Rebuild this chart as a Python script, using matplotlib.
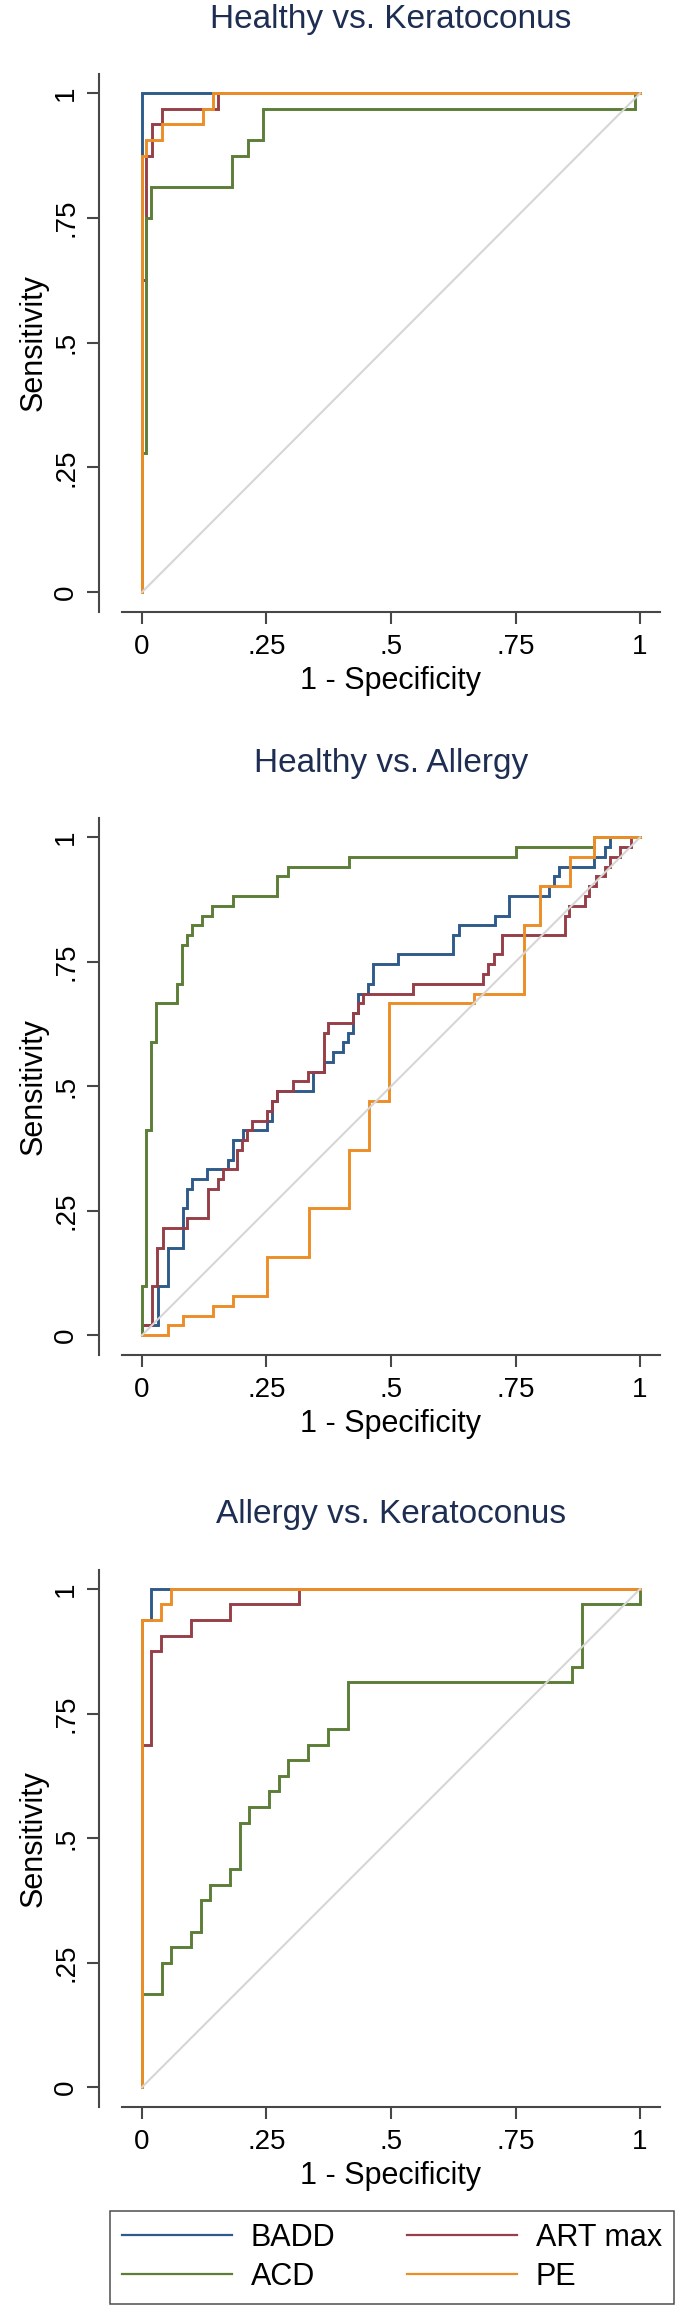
import matplotlib.pyplot as plt
from matplotlib.lines import Line2D

plt.rcParams['font.family'] = ['Liberation Sans', 'DejaVu Sans']

PANEL_TITLES = ['Healthy vs. Keratoconus', 'Healthy vs. Allergy', 'Allergy vs. Keratoconus']
SERIES = ['BADD', 'ART max', 'ACD', 'PE']
SERIES_COLORS = {
    'BADD': '#2f5b8b',
    'ART max': '#963f48',
    'ACD': '#5c7e37',
    'PE': '#ec8e28',
}
TICKS = [0, 0.25, 0.5, 0.75, 1]
TICK_LABELS = ['0', '.25', '.5', '.75', '1']

# Healthy vs. Keratoconus: vertices of each ROC curve (1 - specificity, sensitivity)
HK_BADD_FPR = [0, 0, 1]
HK_BADD_SENS = [0, 1, 1]
HK_ART_FPR = [0, 0, 0.008, 0.008, 0.02, 0.02, 0.04, 0.04, 0.152, 0.152, 1]
HK_ART_SENS = [0, 0.625, 0.625, 0.875, 0.875, 0.9375, 0.9375, 0.969, 0.969, 1, 1]
HK_ACD_FPR = [0, 0, 0.008, 0.008, 0.019, 0.019, 0.181, 0.181, 0.212, 0.212, 0.244, 0.244,
              0.99, 0.99, 1]
HK_ACD_SENS = [0, 0.28, 0.28, 0.75, 0.75, 0.8125, 0.8125, 0.875, 0.875, 0.906, 0.906, 0.969,
               0.969, 1, 1]
HK_PE_FPR = [0, 0, 0.009, 0.009, 0.04, 0.04, 0.122, 0.122, 0.142, 0.142, 1]
HK_PE_SENS = [0, 0.875, 0.875, 0.906, 0.906, 0.9375, 0.9375, 0.969, 0.969, 1, 1]

# Healthy vs. Allergy
HA_BADD_FPR = [0, 0, 0.032, 0.032, 0.052, 0.052, 0.082, 0.082, 0.091, 0.091, 0.1, 0.1,
               0.131, 0.131, 0.173, 0.173, 0.183, 0.183, 0.203, 0.203, 0.252, 0.252,
               0.262, 0.262, 0.272, 0.272, 0.344, 0.344, 0.365, 0.365, 0.384, 0.384,
               0.403, 0.403, 0.414, 0.414, 0.424, 0.424, 0.434, 0.434, 0.454, 0.454,
               0.464, 0.464, 0.515, 0.515, 0.625, 0.625, 0.637, 0.637, 0.708, 0.708,
               0.736, 0.736, 0.818, 0.818, 0.828, 0.828, 0.838, 0.838, 0.907, 0.907,
               0.929, 0.929, 0.94, 0.94, 1]
HA_BADD_SENS = [0, 0.02, 0.02, 0.098, 0.098, 0.176, 0.176, 0.255, 0.255, 0.294, 0.294, 0.314,
                0.314, 0.333, 0.333, 0.353, 0.353, 0.392, 0.392, 0.412, 0.412, 0.431,
                0.431, 0.471, 0.471, 0.49, 0.49, 0.529, 0.529, 0.549, 0.549, 0.569,
                0.569, 0.588, 0.588, 0.608, 0.608, 0.647, 0.647, 0.686, 0.686, 0.706,
                0.706, 0.745, 0.745, 0.765, 0.765, 0.804, 0.804, 0.824, 0.824, 0.843,
                0.843, 0.882, 0.882, 0.902, 0.902, 0.922, 0.922, 0.941, 0.941, 0.961,
                0.961, 0.98, 0.98, 1, 1]
HA_ART_FPR = [0, 0, 0.02, 0.02, 0.03, 0.03, 0.042, 0.042, 0.091, 0.091, 0.132, 0.132,
              0.152, 0.152, 0.162, 0.162, 0.191, 0.191, 0.2, 0.2, 0.21, 0.21, 0.221, 0.221,
              0.252, 0.252, 0.262, 0.262, 0.272, 0.272, 0.303, 0.303, 0.334, 0.334,
              0.365, 0.365, 0.374, 0.374, 0.424, 0.424, 0.434, 0.434, 0.444, 0.444,
              0.545, 0.545, 0.684, 0.684, 0.695, 0.695, 0.706, 0.706, 0.723, 0.723,
              0.849, 0.849, 0.857, 0.857, 0.89, 0.89, 0.898, 0.898, 0.912, 0.912,
              0.929, 0.929, 0.94, 0.94, 0.96, 0.96, 0.982, 0.982, 1]
HA_ART_SENS = [0, 0.02, 0.02, 0.098, 0.098, 0.176, 0.176, 0.216, 0.216, 0.235, 0.235, 0.294,
               0.294, 0.314, 0.314, 0.333, 0.333, 0.373, 0.373, 0.392, 0.392, 0.412, 0.412,
               0.431, 0.431, 0.451, 0.451, 0.471, 0.471, 0.49, 0.49, 0.51, 0.51, 0.529,
               0.529, 0.608, 0.608, 0.627, 0.627, 0.647, 0.647, 0.667, 0.667, 0.686,
               0.686, 0.706, 0.706, 0.725, 0.725, 0.745, 0.745, 0.765, 0.765, 0.804,
               0.804, 0.843, 0.843, 0.863, 0.863, 0.882, 0.882, 0.902, 0.902, 0.922,
               0.922, 0.941, 0.941, 0.961, 0.961, 0.98, 0.98, 1, 1]
HA_ACD_FPR = [0, 0, 0.009, 0.009, 0.019, 0.019, 0.029, 0.029, 0.071, 0.071, 0.081, 0.081,
              0.091, 0.091, 0.1, 0.1, 0.121, 0.121, 0.141, 0.141, 0.182, 0.182, 0.272,
              0.272, 0.293, 0.293, 0.416, 0.416, 0.75, 0.75, 0.907, 0.907, 1]
HA_ACD_SENS = [0, 0.098, 0.098, 0.412, 0.412, 0.588, 0.588, 0.667, 0.667, 0.706, 0.706,
               0.784, 0.784, 0.804, 0.804, 0.824, 0.824, 0.843, 0.843, 0.863, 0.863,
               0.882, 0.882, 0.922, 0.922, 0.941, 0.941, 0.961, 0.961, 0.98, 0.98, 1, 1]
HA_PE_FPR = [0, 0.052, 0.052, 0.082, 0.082, 0.143, 0.143, 0.182, 0.182, 0.252, 0.252,
             0.335, 0.335, 0.415, 0.415, 0.456, 0.456, 0.496, 0.496, 0.666, 0.666, 0.767,
             0.767, 0.8, 0.8, 0.859, 0.859, 0.907, 0.907, 1]
HA_PE_SENS = [0, 0, 0.02, 0.02, 0.039, 0.039, 0.059, 0.059, 0.078, 0.078, 0.157, 0.157,
              0.255, 0.255, 0.373, 0.373, 0.471, 0.471, 0.667, 0.667, 0.686, 0.686, 0.824,
              0.824, 0.902, 0.902, 0.961, 0.961, 1, 1]

# Allergy vs. Keratoconus
AK_BADD_FPR = [0, 0, 0.018, 0.018, 1]
AK_BADD_SENS = [0, 0.9375, 0.9375, 1, 1]
AK_ART_FPR = [0, 0, 0.019, 0.019, 0.039, 0.039, 0.098, 0.098, 0.177, 0.177, 0.315, 0.315, 1]
AK_ART_SENS = [0, 0.6875, 0.6875, 0.875, 0.875, 0.906, 0.906, 0.9375, 0.9375, 0.969, 0.969,
               1, 1]
AK_ACD_FPR = [0, 0, 0.04, 0.04, 0.058, 0.058, 0.098, 0.098, 0.118, 0.118, 0.137, 0.137,
              0.177, 0.177, 0.196, 0.196, 0.215, 0.215, 0.255, 0.255, 0.275, 0.275, 0.294,
              0.294, 0.334, 0.334, 0.373, 0.373, 0.413, 0.413, 0.863, 0.863, 0.883, 0.883,
              1, 1]
AK_ACD_SENS = [0, 0.1875, 0.1875, 0.25, 0.25, 0.281, 0.281, 0.3125, 0.3125, 0.375, 0.375,
               0.406, 0.406, 0.4375, 0.4375, 0.531, 0.531, 0.5625, 0.5625, 0.594, 0.594,
               0.625, 0.625, 0.656, 0.656, 0.6875, 0.6875, 0.719, 0.719, 0.8125, 0.8125,
               0.844, 0.844, 0.969, 0.969, 1]
AK_PE_FPR = [0, 0, 0.038, 0.038, 0.058, 0.058, 1]
AK_PE_SENS = [0, 0.9375, 0.9375, 0.969, 0.969, 1, 1]

PANELS = [
    {'BADD': (HK_BADD_FPR, HK_BADD_SENS), 'ART max': (HK_ART_FPR, HK_ART_SENS),
     'ACD': (HK_ACD_FPR, HK_ACD_SENS), 'PE': (HK_PE_FPR, HK_PE_SENS)},
    {'BADD': (HA_BADD_FPR, HA_BADD_SENS), 'ART max': (HA_ART_FPR, HA_ART_SENS),
     'ACD': (HA_ACD_FPR, HA_ACD_SENS), 'PE': (HA_PE_FPR, HA_PE_SENS)},
    {'BADD': (AK_BADD_FPR, AK_BADD_SENS), 'ART max': (AK_ART_FPR, AK_ART_SENS),
     'ACD': (AK_ACD_FPR, AK_ACD_SENS), 'PE': (AK_PE_FPR, AK_PE_SENS)},
]

W, H = 685, 2312
# top / bottom pixel rows of each plot region
PANEL_ROWS = [(74.3, 611.7), (818.4, 1354.7), (1570.0, 2106.7)]
AXIS_COLOR = '#474747'
TITLE_COLOR = '#1e2d52'


def plot_roc(ax, title, curves):
    for name in SERIES:
        fpr, sens = curves[name]
        ax.plot(fpr, sens, color=SERIES_COLORS[name], linewidth=2.1,
                solid_joinstyle='miter', zorder=3)
    ax.plot([0, 1], [0, 1], color='#d6d6d6', linewidth=1.5, zorder=4)

    ax.set_xlim(-0.04, 1.04)
    ax.set_ylim(-0.039, 1.038)
    ax.set_xticks(TICKS)
    ax.set_xticklabels(TICK_LABELS)
    ax.set_yticks(TICKS)
    ax.set_yticklabels(TICK_LABELS)

    for side in ('top', 'right'):
        ax.spines[side].set_visible(False)
    ax.spines['left'].set_position(('outward', 16.6))
    for side in ('left', 'bottom'):
        ax.spines[side].set_color(AXIS_COLOR)
        ax.spines[side].set_linewidth(1.5)
    ax.tick_params(length=8.9, width=1.5, color=AXIS_COLOR, labelsize=20)
    ax.tick_params(axis='x', pad=7)
    ax.tick_params(axis='y', pad=5.4, labelrotation=90)
    for lab in ax.get_yticklabels():
        lab.set_verticalalignment('center')

    ax.set_xlabel('1 - Specificity', fontsize=22, labelpad=4.7)
    ax.set_ylabel('Sensitivity', fontsize=22, labelpad=3.5)
    ax.set_title(title, fontsize=24, color=TITLE_COLOR, pad=33.5)


fig = plt.figure(figsize=(W / 100, H / 100), dpi=100)

for (top, bottom), title, curves in zip(PANEL_ROWS, PANEL_TITLES, PANELS):
    ax = fig.add_axes([122 / W, 1 - bottom / H, 538 / W, (bottom - top) / H])
    plot_roc(ax, title, curves)

handles = [Line2D([], [], color=SERIES_COLORS[n], linewidth=1.6) for n in SERIES]
# column-first fill: BADD, ACD | ART max, PE
order = [0, 2, 1, 3]
leg = fig.legend([handles[i] for i in order], [SERIES[i] for i in order],
                 ncol=2, loc='center', mode='expand',
                 bbox_to_anchor=(110 / W, 1 - 2308 / H, 564 / W, 101 / H),
                 fontsize=22, handlelength=3.6, handletextpad=0.6,
                 borderaxespad=0, frameon=True, fancybox=False,
                 labelspacing=0.3, borderpad=0.4)
leg.get_frame().set_edgecolor('#222222')
leg.get_frame().set_linewidth(1.1)

fig.savefig('out.png', dpi=100, facecolor='white')
